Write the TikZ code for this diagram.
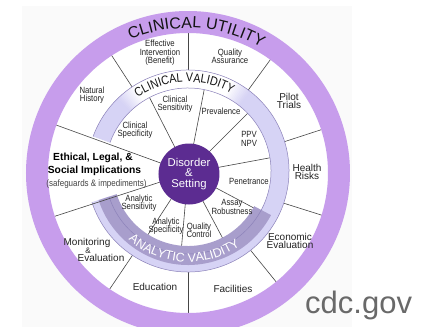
\documentclass[tikz,border=0pt]{standalone}
\usepackage{fontspec}
\setmainfont{Liberation Sans}
\setsansfont{Liberation Sans}
\newfontfamily\narrowsans[FakeStretch=0.86]{Liberation Sans}
\usetikzlibrary{decorations.text}

\definecolor{utilring}{RGB}{199,157,236}
\definecolor{validring}{RGB}{214,211,245}
\definecolor{analyticband}{RGB}{168,158,204}
\definecolor{ringedge}{RGB}{140,130,185}
\definecolor{core}{RGB}{92,44,145}
\definecolor{labeltext}{RGB}{35,35,35}
\definecolor{divider}{RGB}{70,70,70}
\definecolor{panel}{RGB}{250,250,250}
\definecolor{sitegray}{RGB}{105,105,105}
\definecolor{ringtext}{RGB}{20,20,20}

\newcommand\smalllabelfont{\narrowsans\fontsize{9}{8.4}\selectfont}
\newcommand\biglabelfont{\fontsize{10}{8.8}\selectfont}
\newcommand\utilfont{\fontsize{16}{16}\selectfont}
\newcommand\validfont{\narrowsans\fontsize{12.5}{12.5}\selectfont}
\newcommand\analyticfont{\fontsize{12.5}{12.5}\selectfont}

\tikzset{
  innerlbl/.style={font=\smalllabelfont, text=labeltext, align=center, inner sep=0pt},
  outerlbl/.style={font=\biglabelfont, text=labeltext, align=center, inner sep=0pt},
  divline/.style={draw=divider, line width=0.6pt},
  corelbl/.style={font=\fontsize{11.3}{10.8}\selectfont, text=white, align=center, inner sep=0pt},
  ringcurve/.style={decorate, decoration={text along path, text align=center, text color=#1}}
}

\begin{document}
\begin{tikzpicture}[x=1pt,y=1pt]
\useasboundingbox (-188,-154) rectangle (236,173);
\clip (-188,-154) rectangle (236,173);
\fill[panel] (-166,-154) rectangle (164,167);

% white field inside the utility ring
\fill[white] (0,0) circle[radius=141pt];

% dividers of the inner (validity) sectors
\foreach \a in {117,79,45,10.5,-28,-62,-95,-123}
  \draw[divline] (\a:28) -- (\a:86);
% dividers of the outer (utility) sectors
\foreach \a in {123,90,54,18,-17.5,-51,-90,-124}
  \draw[divline] (\a:98) -- (\a:141);

% validity ring
\begin{scope}[shift={(0,2)}]
  \fill[validring] (198:83) arc[start angle=198, end angle=520, radius=83pt]
    -- (520:101) arc[start angle=520, end angle=198, radius=101pt] -- cycle;
  % fade to white under the clinical validity caption
  \foreach \i in {0,...,11}{
    \pgfmathsetmacro\w{(\i+0.5)*100/12}
    \pgfmathsetmacro\a{52+\i}
    \pgfmathsetmacro\b{53.4+\i}
    \pgfmathsetmacro\c{134-\i}
    \pgfmathsetmacro\d{132.6-\i}
    \fill[white!\w!validring] (\a:83) arc[start angle=\a, end angle=\b, radius=83pt]
      -- (\b:101) arc[start angle=\b, end angle=\a, radius=101pt] -- cycle;
    \fill[white!\w!validring] (\d:83) arc[start angle=\d, end angle=\c, radius=83pt]
      -- (\c:101) arc[start angle=\c, end angle=\d, radius=101pt] -- cycle;
  }
  \fill[white] (63.5:83) arc[start angle=63.5, end angle=122.5, radius=83pt]
    -- (122.5:101) arc[start angle=122.5, end angle=63.5, radius=101pt] -- cycle;
  % analytic validity band
  \fill[analyticband] (198:75) arc[start angle=198, end angle=332, radius=75pt]
    -- (332:94) arc[start angle=332, end angle=198, radius=94pt] -- cycle;
  % ring edges
  \draw[ringedge, line width=0.5pt] (198:101) arc[start angle=198, end angle=520, radius=101pt];
  \draw[ringedge, line width=0.5pt] (198:83) arc[start angle=198, end angle=520, radius=83pt];
  % captions on the ring
  \path[ringcurve=ringtext, decoration={text={|\validfont|CLINICAL VALIDITY}}]
    (135:89) arc[start angle=135, end angle=50, radius=89pt];
  \path[ringcurve=white, decoration={text={|\analyticfont|ANALYTIC VALIDITY}}]
    (222:91) arc[start angle=222, end angle=312, radius=91pt];
\end{scope}

% boundaries of the ethical, legal and social sector
\draw[divline] (160:28) -- (160:141);
\draw[divline] (198:28) -- (198:141);

% clinical utility ring
\fill[utilring, even odd rule] (0,0) circle[radius=162pt] (0,0) circle[radius=140pt];
\path[ringcurve=ringtext, decoration={text={|\utilfont|CLINICAL UTILITY}}]
  (125:145) arc[start angle=125, end angle=48, radius=145pt];

% core
\node[circle, fill=core, minimum size=61pt, inner sep=0pt] (core) at (1,-1) {};
\node[corelbl] (coretext) at (1,-1) {Disorder\\\&\\Setting};

% inner sector labels
\node[innerlbl] (clinspec) at (-53,43) {Clinical\\Specificity};
\node[innerlbl] (clinsens) at (-13,69) {Clinical\\Sensitivity};
\node[innerlbl] (prev) at (33,62) {Prevalence};
\node[innerlbl] (ppv) at (61,34) {PPV\\NPV};
\node[innerlbl] (pen) at (61,-8) {Penetrance};
\node[innerlbl] (assay) at (44,-34) {Assay\\Robustness};
\node[innerlbl] (qc) at (11,-57) {Quality\\Control};
\node[innerlbl] (anspec) at (-22,-53) {Analytic\\Specificity};
\node[innerlbl] (ansens) at (-49,-30) {Analytic\\Sensitivity};

% outer sector labels
\node[innerlbl] (natural) at (-96,78) {Natural\\History};
\node[innerlbl] (effective) at (-28,120) {Effective\\Intervention\\(Benefit)};
\node[innerlbl] (qa) at (42,117) {Quality\\Assurance};
\node[outerlbl] (pilot) at (101,72) {Pilot\\Trials};
\node[outerlbl] (health) at (119,1) {Health\\Risks};
\node[outerlbl] (econ) at (102,-68) {Economic\\Evaluation};
\node[outerlbl] (facil) at (45,-116) {Facilities};
\node[outerlbl] (educ) at (-33,-114) {Education};
\node[outerlbl] (monit) at (-101,-70) {Monitoring};
\node[outerlbl, font=\fontsize{8}{8}\selectfont] (monitamp) at (-100,-77.5) {\&};
\node[outerlbl] (monitev) at (-87,-85) {Evaluation};

% ethical, legal and social implications
\node[font=\fontsize{10.3}{10.3}\selectfont\bfseries, text=black, inner sep=0pt] (elsi1) at (-95,15) {Ethical, Legal, \&};
\node[font=\fontsize{10.3}{10.3}\selectfont\bfseries, text=black, inner sep=0pt] (elsi2) at (-93.5,2) {Social Implications};
\node[font=\narrowsans\fontsize{9.3}{9.3}\selectfont, text=labeltext!85!white, inner sep=0pt] (elsi3) at (-91.5,-11) {(safeguards \& impediments)};

% source
\node[anchor=base west, font=\fontsize{31}{31}\selectfont, text=sitegray, inner sep=0pt] (source) at (117,-140) {cdc.gov};
\end{tikzpicture}
\end{document}
